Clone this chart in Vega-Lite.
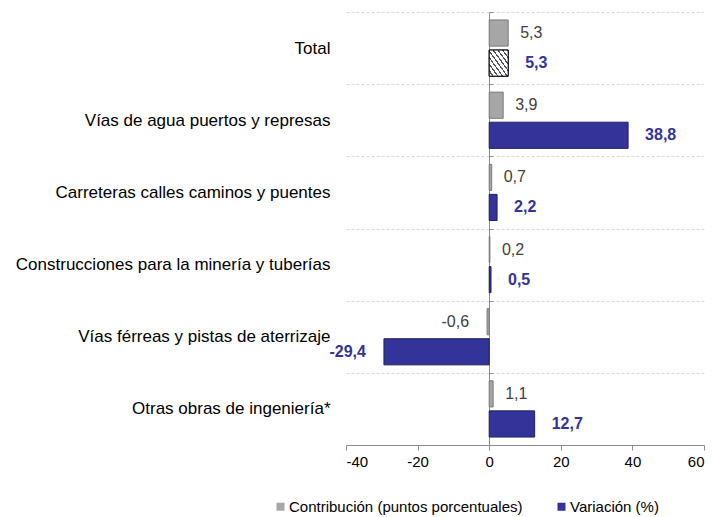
{
  "$schema": "https://vega.github.io/schema/vega-lite/v6.json",
  "width": 358,
  "height": 433,
  "autosize": {"type": "none"},
  "padding": {"left": 346, "top": 12, "right": 9, "bottom": 72},
  "config": {
    "font": "Liberation Sans",
    "view": {"stroke": null},
    "locale": {"number": {"decimal": ",", "thousands": ".", "grouping": [3], "currency": ["", " €"], "minus": "-"}}
  },
  "data": {
    "values": [
      {"categoria": "Total", "serie": "Contribución (puntos porcentuales)", "valor": 5.3},
      {"categoria": "Total", "serie": "Variación (%)", "valor": 5.3},
      {"categoria": "Vías de agua puertos y represas", "serie": "Contribución (puntos porcentuales)", "valor": 3.9},
      {"categoria": "Vías de agua puertos y represas", "serie": "Variación (%)", "valor": 38.8},
      {"categoria": "Carreteras calles caminos y puentes", "serie": "Contribución (puntos porcentuales)", "valor": 0.7},
      {"categoria": "Carreteras calles caminos y puentes", "serie": "Variación (%)", "valor": 2.2},
      {"categoria": "Construcciones para la minería y tuberías", "serie": "Contribución (puntos porcentuales)", "valor": 0.2},
      {"categoria": "Construcciones para la minería y tuberías", "serie": "Variación (%)", "valor": 0.5},
      {"categoria": "Vías férreas y pistas de aterrizaje", "serie": "Contribución (puntos porcentuales)", "valor": -0.6},
      {"categoria": "Vías férreas y pistas de aterrizaje", "serie": "Variación (%)", "valor": -29.4},
      {"categoria": "Otras obras de ingeniería*", "serie": "Contribución (puntos porcentuales)", "valor": 1.1},
      {"categoria": "Otras obras de ingeniería*", "serie": "Variación (%)", "valor": 12.7}
    ]
  },
  "encoding": {
    "x": {
      "field": "valor", "type": "quantitative",
      "scale": {"domain": [-40, 60], "nice": false, "zero": false},
      "axis": {"title": null, "values": [-40, -20, 0, 20, 40, 60], "grid": false, "format": "d",
        "domainColor": "#8c8c8c", "tickColor": "#8c8c8c", "tickSize": 5, "labelFontSize": 15, "labelColor": "#000", "labelPadding": 4}
    },
    "yOffset": {"field": "serie", "type": "nominal", "sort": ["Contribución (puntos porcentuales)", "Variación (%)"], "scale": {"paddingInner": 0.13, "paddingOuter": 0.265}}
  },
  "resolve": {"axis": {"y": "independent"}},
  "layer": [
    {
      "mark": {"type": "bar", "strokeWidth": 1},
      "encoding": {
        "y": {"field": "categoria", "type": "nominal",
          "sort": ["Total", "Vías de agua puertos y represas", "Carreteras calles caminos y puentes", "Construcciones para la minería y tuberías", "Vías férreas y pistas de aterrizaje", "Otras obras de ingeniería*"],
          "scale": {"paddingInner": 0, "paddingOuter": 0},
          "axis": {"title": null, "domain": false, "ticks": false, "labelFontSize": 17, "labelColor": "#000", "labelPadding": 16, "labelLimit": 340,
            "grid": true, "gridColor": "#d9d9d9", "gridDash": [3, 2], "tickBand": "extent"}
        },
        "color": {"field": "serie", "type": "nominal",
          "scale": {"domain": ["Contribución (puntos porcentuales)", "Variación (%)"], "range": ["#a6a6a6", "#333399"]},
          "legend": {"title": null, "orient": "none", "legendX": -73, "legendY": 487, "direction": "horizontal", "columns": 2,
            "symbolType": "square", "symbolSize": 64, "symbolStrokeWidth": 0, "labelFontSize": 15, "labelColor": "#000", "columnPadding": 31, "labelOffset": 1, "labelLimit": 400}
        },
        "stroke": {"field": "serie", "type": "nominal", "scale": {"domain": ["Contribución (puntos porcentuales)", "Variación (%)"], "range": ["#7a7a7a", "#20205e"]}, "legend": null}
      }
    },
    {
      "transform": [{"filter": "datum.categoria === 'Total' && datum.serie === 'Variación (%)'"}],
      "mark": {"type": "bar", "stroke": "#000", "strokeWidth": 1,
        "fill": {"gradient": "linear", "x1": 0, "y1": 1, "x2": 1, "y2": 0, "stops": [
          {"offset": 0, "color": "#ffffff"}, {"offset": 0.085, "color": "#ffffff"}, {"offset": 0.085, "color": "#555555"}, {"offset": 0.125, "color": "#555555"},
          {"offset": 0.125, "color": "#ffffff"}, {"offset": 0.21, "color": "#ffffff"}, {"offset": 0.21, "color": "#555555"}, {"offset": 0.25, "color": "#555555"},
          {"offset": 0.25, "color": "#ffffff"}, {"offset": 0.335, "color": "#ffffff"}, {"offset": 0.335, "color": "#555555"}, {"offset": 0.375, "color": "#555555"},
          {"offset": 0.375, "color": "#ffffff"}, {"offset": 0.46, "color": "#ffffff"}, {"offset": 0.46, "color": "#555555"}, {"offset": 0.5, "color": "#555555"},
          {"offset": 0.5, "color": "#ffffff"}, {"offset": 0.585, "color": "#ffffff"}, {"offset": 0.585, "color": "#555555"}, {"offset": 0.625, "color": "#555555"},
          {"offset": 0.625, "color": "#ffffff"}, {"offset": 0.71, "color": "#ffffff"}, {"offset": 0.71, "color": "#555555"}, {"offset": 0.75, "color": "#555555"},
          {"offset": 0.75, "color": "#ffffff"}, {"offset": 0.835, "color": "#ffffff"}, {"offset": 0.835, "color": "#555555"}, {"offset": 0.875, "color": "#555555"},
          {"offset": 0.875, "color": "#ffffff"}, {"offset": 0.96, "color": "#ffffff"}, {"offset": 0.96, "color": "#555555"}, {"offset": 1, "color": "#555555"}
        ]}},
      "encoding": {
        "y": {"field": "categoria", "type": "nominal",
          "sort": ["Total", "Vías de agua puertos y represas", "Carreteras calles caminos y puentes", "Construcciones para la minería y tuberías", "Vías férreas y pistas de aterrizaje", "Otras obras de ingeniería*"],
          "axis": {"orient": "right", "offset": -215, "title": null, "labels": false, "grid": false, "domain": true, "domainColor": "#8c8c8c",
            "ticks": true, "tickColor": "#8c8c8c", "tickSize": 4, "tickBand": "extent"}
        }
      }
    },
    {
      "transform": [{"filter": "datum.serie === 'Contribución (puntos porcentuales)' && datum.valor >= 0"}],
      "mark": {"type": "text", "align": "left", "baseline": "middle", "dx": 12, "fontSize": 16, "color": "#404040"},
      "encoding": {
        "y": {"field": "categoria", "type": "nominal",
          "sort": ["Total", "Vías de agua puertos y represas", "Carreteras calles caminos y puentes", "Construcciones para la minería y tuberías", "Vías férreas y pistas de aterrizaje", "Otras obras de ingeniería*"],
          "axis": null},
        "text": {"field": "valor", "type": "quantitative", "format": ".1f"}
      }
    },
    {
      "transform": [{"filter": "datum.serie === 'Contribución (puntos porcentuales)' && datum.valor < 0"}],
      "mark": {"type": "text", "align": "right", "baseline": "middle", "dx": -18, "fontSize": 16, "color": "#404040"},
      "encoding": {
        "y": {"field": "categoria", "type": "nominal",
          "sort": ["Total", "Vías de agua puertos y represas", "Carreteras calles caminos y puentes", "Construcciones para la minería y tuberías", "Vías férreas y pistas de aterrizaje", "Otras obras de ingeniería*"],
          "axis": null},
        "text": {"field": "valor", "type": "quantitative", "format": ".1f"}
      }
    },
    {
      "transform": [{"filter": "datum.serie === 'Variación (%)' && datum.valor >= 0"}],
      "mark": {"type": "text", "align": "left", "baseline": "middle", "dx": 17, "fontSize": 16, "fontWeight": "bold", "color": "#333399"},
      "encoding": {
        "y": {"field": "categoria", "type": "nominal",
          "sort": ["Total", "Vías de agua puertos y represas", "Carreteras calles caminos y puentes", "Construcciones para la minería y tuberías", "Vías férreas y pistas de aterrizaje", "Otras obras de ingeniería*"],
          "axis": null},
        "text": {"field": "valor", "type": "quantitative", "format": ".1f"}
      }
    },
    {
      "transform": [{"filter": "datum.serie === 'Variación (%)' && datum.valor < 0"}],
      "mark": {"type": "text", "align": "right", "baseline": "middle", "dx": -18, "fontSize": 16, "fontWeight": "bold", "color": "#333399"},
      "encoding": {
        "y": {"field": "categoria", "type": "nominal",
          "sort": ["Total", "Vías de agua puertos y represas", "Carreteras calles caminos y puentes", "Construcciones para la minería y tuberías", "Vías férreas y pistas de aterrizaje", "Otras obras de ingeniería*"],
          "axis": null},
        "text": {"field": "valor", "type": "quantitative", "format": ".1f"}
      }
    }
  ]
}
